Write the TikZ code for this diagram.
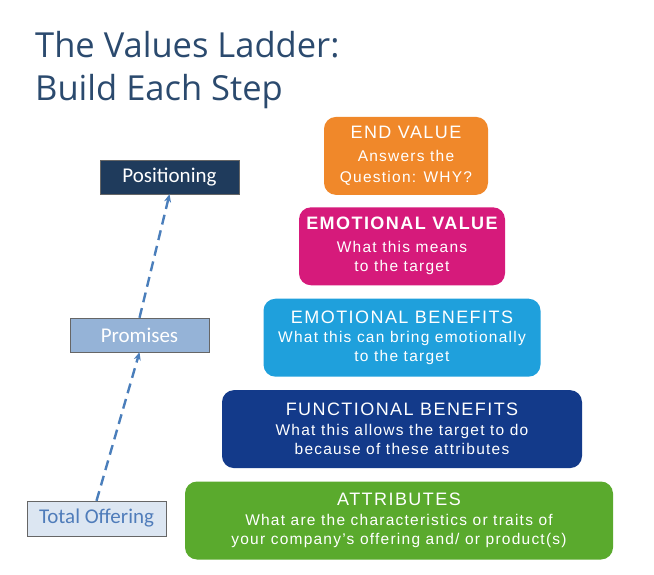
\documentclass[tikz,border=0pt]{standalone}
\usepackage{fontspec}
\setmainfont{Liberation Sans}
\newfontfamily\headfont{Open Sans}
\newfontfamily\calfont{Carlito}
\newfontfamily\ladderfont[LetterSpace=8]{Liberation Sans}
\usepackage{tikz}
\usetikzlibrary{arrows.meta, positioning}

\definecolor{titleblue}{HTML}{2B4A6E}
\definecolor{arrowblue}{HTML}{4A7EBB}
\definecolor{posfill}{HTML}{1F3B5C}
\definecolor{promfill}{HTML}{95B3D7}
\definecolor{offerfill}{HTML}{DCE6F2}
\definecolor{offertext}{HTML}{4F7CBA}
\definecolor{endorange}{HTML}{F0882A}
\definecolor{valmagenta}{HTML}{D61A7B}
\definecolor{bencyan}{HTML}{1FA0DC}
\definecolor{funcnavy}{HTML}{133A8A}
\definecolor{attrgreen}{HTML}{5AAA2D}

\newcommand{\rungtitle}[1]{{\fontsize{18}{21}\selectfont #1}}

\tikzset{
	rung/.style={rectangle, rounded corners=12pt, minimum height=78pt,
		align=center, text=white, inner sep=0pt,
		font=\ladderfont\fontsize{15.5}{19}\selectfont},
	tag/.style={rectangle, draw=black!60, minimum width=139pt, minimum height=34pt,
		inner sep=0pt, font=\calfont\fontsize{21}{23}\selectfont},
	arr/.style={-{Stealth[length=8pt, width=7pt]}, line width=2.4pt, draw=arrowblue,
		dash pattern=on 10pt off 6pt},
}

\begin{document}
\begin{tikzpicture}[x=1pt, y=-1pt, node distance=13pt]
	\useasboundingbox (0,0) rectangle (654,575);
	
	\node[anchor=north west, align=left, text=titleblue, inner sep=0pt,
		font=\headfont\fontsize{34.5}{43}\selectfont] (title) at (35,31)
		{The Values Ladder:\\Build Each Step};
	
	% left side
	\node[tag, fill=offerfill, text=offertext, minimum height=35pt] (offer) at (96.5,518.5) {Total Offering};
	\node[tag, fill=promfill, text=white] (promises) at (139.5,335) {Promises};
	\node[tag, fill=posfill, text=white] (positioning) at (169.5,177) {Positioning};
	\draw[arr] (offer.north) -- (promises.south);
	\draw[arr] (promises.north) -- (positioning.south);
	
	% the ladder
	\node[rung, fill=attrgreen, minimum width=428pt] (attr) at (399,520.5)
		{\rungtitle{ATTRIBUTES}\\[1pt] What are the characteristics or traits of\\your company’s offering and/ or product(s)};
	\node[rung, fill=funcnavy, minimum width=360pt, above=of attr, xshift=3pt] (func)
		{\rungtitle{FUNCTIONAL BENEFITS}\\[1pt] What this allows the target to do\\because of these attributes};
	\node[rung, fill=bencyan, minimum width=277pt, above=of func] (emoben)
		{\rungtitle{EMOTIONAL BENEFITS}\\[0pt] What this can bring emotionally\\to the target};
	\node[rung, fill=valmagenta, minimum width=206pt, above=of emoben] (emoval)
		{\rungtitle{\bfseries EMOTIONAL VALUE}\\[4pt] What this means\\to the target};
	\node[rung, fill=endorange, minimum width=164pt, above=12pt of emoval, xshift=4pt] (endval)
		{\rungtitle{END VALUE}\\[4pt] Answers the\\[2pt]Question: WHY?};
	
\end{tikzpicture}
\end{document}
